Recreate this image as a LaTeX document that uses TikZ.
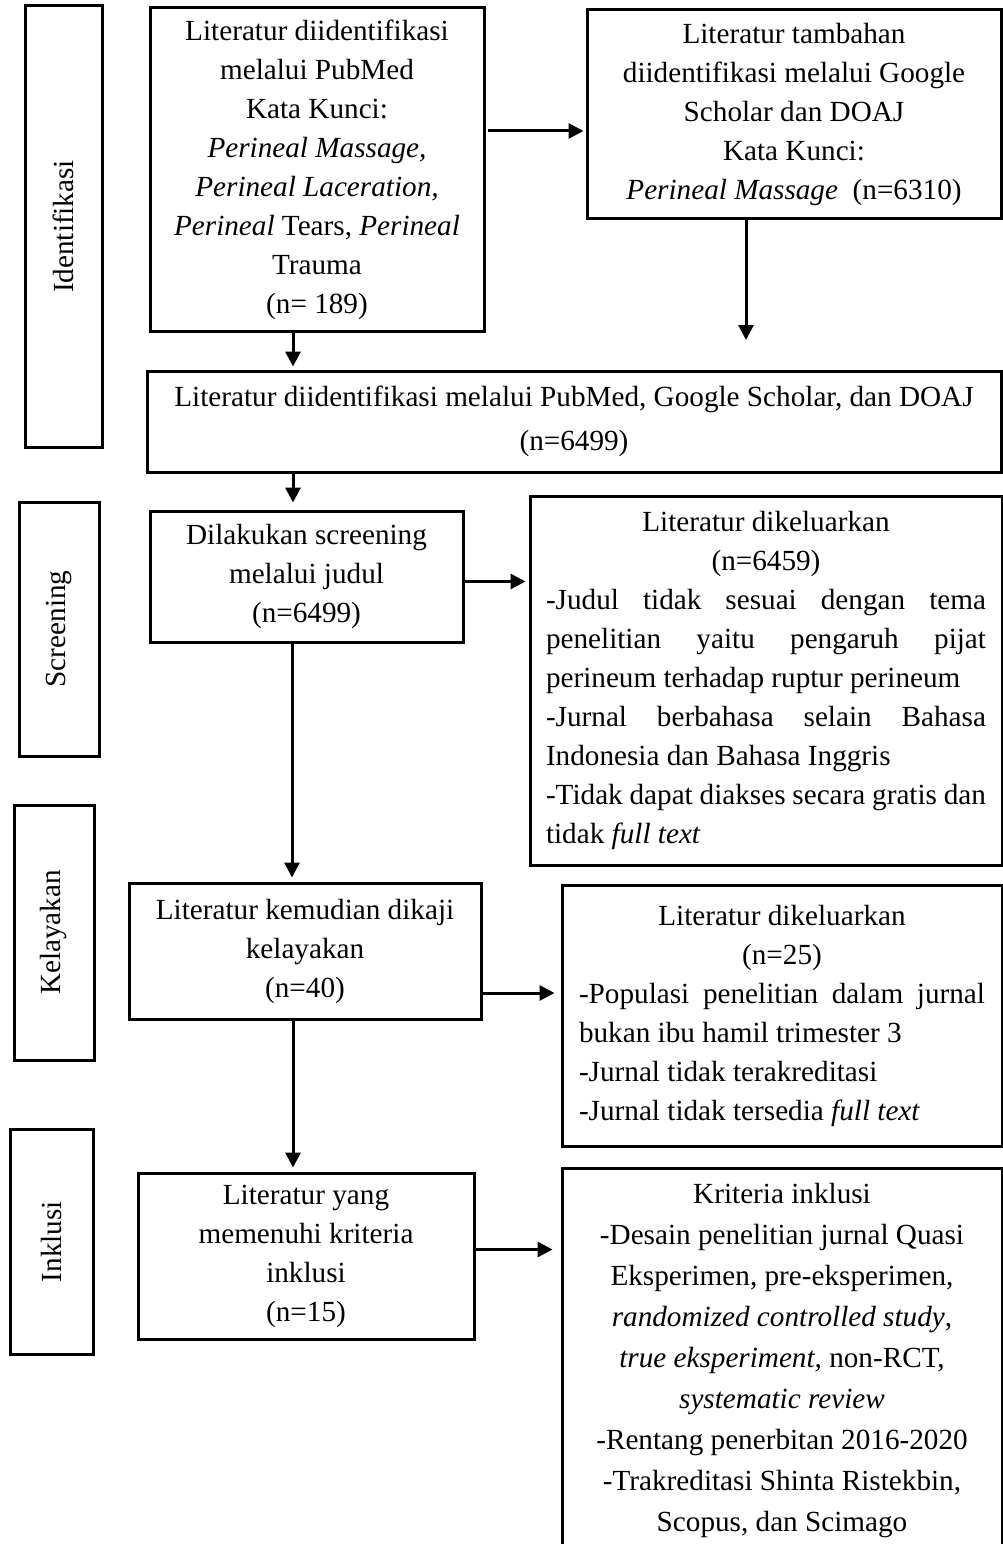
\documentclass[tikz,border=0pt]{standalone}
\usepackage{fontspec}
\setmainfont{Liberation Serif}
\usetikzlibrary{positioning}
\usetikzlibrary{arrows.meta}
\tikzset{
        every node/.style={align=center,inner sep=0pt,font=\fontsize{29.2pt}{39pt}\selectfont},
        box/.style={draw},
        side/.style={draw,rotate=90},
        list/.style={draw,align=justify,execute at begin node={\tolerance=10000\hbadness=10000}},
        arr/.style={-{Triangle[length=15pt,width=15pt]}},
        }

\begin{document}
\begin{tikzpicture}[x=1pt,y=-1pt,line width=3pt]

			% page........................
			\useasboundingbox (0,0) rectangle (1003,1544);

			% stage labels.....................
			\node [side, minimum width=441, minimum height=77] (ident) at (63.5,226.5) {Identifikasi};
			\node [side, minimum width=254, minimum height=80] (scr) at (59,629) {Screening};
			\node [side, minimum width=255, minimum height=80] (kel) at (54,932.5) {Kelayakan};
			\node [side, minimum width=225, minimum height=83] (inkl) at (51.5,1241.5) {Inklusi};

			% identification boxes...................
			\node [box, minimum width=334, minimum height=323] (pubmed) at (317,169.5)
				{Literatur diidentifikasi\\ melalui PubMed\\ Kata Kunci:\\ \textit{Perineal Massage,}\\
				\textit{Perineal Laceration,}\\ \textit{Perineal} Tears, \textit{Perineal}\\ Trauma\\ (n= 189)};
			\node [box, minimum width=414, minimum height=208] (scholar) at (794,114)
				{Literatur tambahan\\ diidentifikasi melalui Google\\ Scholar dan DOAJ\\ Kata Kunci:\\
				\textit{Perineal Massage}\ \ (n=6310)};
			\node [box, minimum width=854, minimum height=101] (all) at (574,421.5)
				{Literatur diidentifikasi melalui PubMed, Google Scholar, dan DOAJ\\[5pt] (n=6499)};
			\coordinate (gap) at (746,340);

			% screening boxes....................
			\node [box, minimum width=313, minimum height=131] (judul) at (306.5,576.5)
				{Dilakukan screening\\ melalui judul\\ (n=6499)};
			\node [list, text width=440, minimum width=472, minimum height=369] (out1) at (766,680.5)
				{{\centering\noindent Literatur dikeluarkan\\ (n=6459)\par}
				\noindent -Judul tidak sesuai dengan tema\linebreak
				penelitian yaitu pengaruh pijat\linebreak
				perineum terhadap ruptur perineum\newline
				-Jurnal berbahasa selain Bahasa\linebreak
				Indonesia dan Bahasa Inggris\newline
				-Tidak dapat diakses secara gratis dan\linebreak
				tidak \textit{full text}};

			% eligibility boxes....................
			\node [box, minimum width=352, minimum height=136] (layak) at (305,951)
				{Literatur kemudian dikaji\\ kelayakan\\ (n=40)};
			\node [list, text width=406, minimum width=440, minimum height=261] (out2) at (782,1015.5)
				{{\centering\noindent Literatur dikeluarkan\\ (n=25)\par}
				\noindent -Populasi penelitian dalam jurnal\linebreak
				bukan ibu hamil trimester 3\newline
				-Jurnal tidak terakreditasi\newline
				-Jurnal tidak tersedia \textit{full text}};

			% inclusion boxes....................
			\node [box, minimum width=336, minimum height=166] (incl) at (306,1256)
				{Literatur yang\\ memenuhi kriteria\\ inklusi\\ (n=15)};
			\node [box, anchor=north, minimum width=440, minimum height=385,
				font=\fontsize{29.2pt}{41pt}\selectfont] (kriteria) at (782,1167)
				{Kriteria inklusi\\ -Desain penelitian jurnal Quasi\\ Eksperimen, pre-eksperimen,\\
				\textit{randomized controlled study},\\ \textit{true eksperiment,} non-RCT,\\
				\textit{systematic review}\\ -Rentang penerbitan 2016-2020\\
				-Trakreditasi Shinta Ristekbin,\\ Scopus, dan Scimago};

			% arrows..............................
			\draw [arr, shorten <=2pt, shorten >=2pt] ([yshift=38.5pt]pubmed.east) -- ([yshift=38.5pt]pubmed.east -| scholar.west);
			\draw [arr] (scholar.south -| gap) -- (gap);
			\draw [arr, shorten >=3pt] ([xshift=-24pt]pubmed.south) -- ([xshift=-24pt]pubmed.south |- all.north);
			\draw [arr, shorten >=7pt] ([xshift=-13.5pt]judul.north |- all.south) -- ([xshift=-13.5pt]judul.north);
			\draw [arr, shorten >=3pt] ([yshift=-5pt]judul.east) -- ([yshift=-5pt]judul.east -| out1.west);
			\draw [arr, shorten >=4pt] ([xshift=-14.5pt]judul.south) -- ([xshift=-14.5pt]judul.south |- layak.north);
			\draw [arr, shorten >=6pt] ([yshift=-42pt]layak.east) -- ([yshift=-42pt]layak.east -| out2.west);
			\draw [arr, shorten >=4pt] ([xshift=-12pt]layak.south) -- ([xshift=-12pt]layak.south |- incl.north);
			\draw [arr, shorten >=8pt] ([yshift=6.5pt]incl.east) -- ([yshift=6.5pt]incl.east -| kriteria.west);
		\end{tikzpicture}
\end{document}
